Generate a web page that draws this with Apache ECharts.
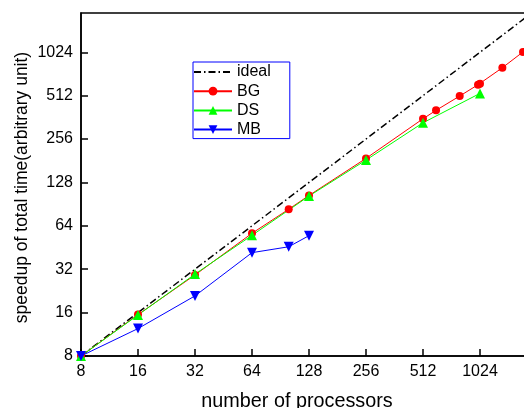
<!DOCTYPE html>
<html>
<head>
<meta charset="utf-8">
<script src="https://cdn.jsdelivr.net/npm/echarts@6/dist/echarts.min.js"></script>
<style>
  html, body { margin: 0; padding: 0; background: #fff; }
  #chart { width: 524px; height: 408px; }
</style>
</head>
<body>
<div id="chart"></div>
<script>
// processors -> speedup
var ideal = [[8, 8], [2048, 2048]];
var bg = [[8, 8], [16, 15.5], [32, 29.2], [64, 56.8], [100, 83.4], [128, 104], [256, 188],
  [512, 354], [600, 405], [800, 509], [1000, 610], [1024, 620], [1344, 800], [1728, 1030]];
var ds = [[8, 8], [16, 15.4], [32, 29.6], [64, 55], [128, 103], [256, 183], [512, 332], [1024, 531]];
var mb = [[8, 8], [16, 12.4], [32, 20.9], [64, 41.7], [100, 45.8], [128, 54.7]];
var ticks = [8, 16, 32, 64, 128, 256, 512, 1024];

var font = "'Liberation Sans', Arial, sans-serif";

function tickLabel(v) {
  var r = Math.round(v);
  return ticks.indexOf(r) >= 0 ? String(r) : "";
}

var myChart = echarts.init(document.getElementById("chart"));
myChart.setOption({
  animation: false,
  backgroundColor: "#fff",
  grid: {
    left: 81, top: 13, right: -13, bottom: 52,
    show: true, borderColor: "#000", borderWidth: 1.5,
    outerBoundsMode: "none"
  },
  legend: {
    orient: "vertical",
    left: 193, top: 62,
    itemWidth: 38, itemHeight: 11, itemGap: 3.2,
    padding: [2, 19, 1, 0],
    borderColor: "#0000ff", borderWidth: 1,
    textStyle: { fontFamily: font, fontSize: 16, color: "#000" },
    data: [
      { name: "ideal", itemStyle: { opacity: 0 } },
      "BG", "DS", "MB"
    ]
  },
  xAxis: {
    type: "log", logBase: 2, min: 8, max: 2048, interval: 1,
    axisLine: { lineStyle: { color: "#000", width: 1.5 } },
    axisTick: { inside: true, length: 7, lineStyle: { color: "#000", width: 1.5 } },
    axisLabel: { margin: 8, fontFamily: font, fontSize: 16, color: "#000", formatter: tickLabel },
    splitLine: { show: false }
  },
  yAxis: {
    type: "log", logBase: 2, min: 8, max: 1918, interval: 1,
    axisLine: { lineStyle: { color: "#000", width: 1.5 } },
    axisTick: { inside: true, length: 7, lineStyle: { color: "#000", width: 1.5 } },
    axisLabel: { margin: 8, fontFamily: font, fontSize: 16, color: "#000", formatter: tickLabel, showMaxLabel: false },
    splitLine: { show: false }
  },
  graphic: [
    {
      type: "text", x: 297, y: 402,
      style: { text: "number of processors", font: "19.8px " + font, fill: "#000",
        textAlign: "center", textVerticalAlign: "middle" }
    },
    {
      type: "text", x: 22, y: 187.5, rotation: Math.PI / 2,
      style: { text: "speedup of total time(arbitrary unit)", font: "17.5px " + font, fill: "#000",
        textAlign: "center", textVerticalAlign: "middle" }
    }
  ],
  series: [
    {
      name: "ideal", type: "line", data: ideal, symbol: "none",
      lineStyle: { color: "#000", width: 1.5, type: [7, 3, 1.5, 3] },
      itemStyle: { color: "#000" }
    },
    {
      name: "BG", type: "line", data: bg, symbol: "circle", symbolSize: 8,
      lineStyle: { color: "#ff0000", width: 1 }, itemStyle: { color: "#ff0000" }
    },
    {
      name: "DS", type: "line", data: ds, symbol: "triangle", symbolSize: 10,
      lineStyle: { color: "#00ff00", width: 1 }, itemStyle: { color: "#00ff00" }
    },
    {
      name: "MB", type: "line", data: mb, symbol: "triangle", symbolRotate: 180, symbolSize: 10,
      lineStyle: { color: "#0000ff", width: 1 }, itemStyle: { color: "#0000ff" }
    }
  ]
});

window.addEventListener("resize", function () { myChart.resize(); });
</script>
</body>
</html>
